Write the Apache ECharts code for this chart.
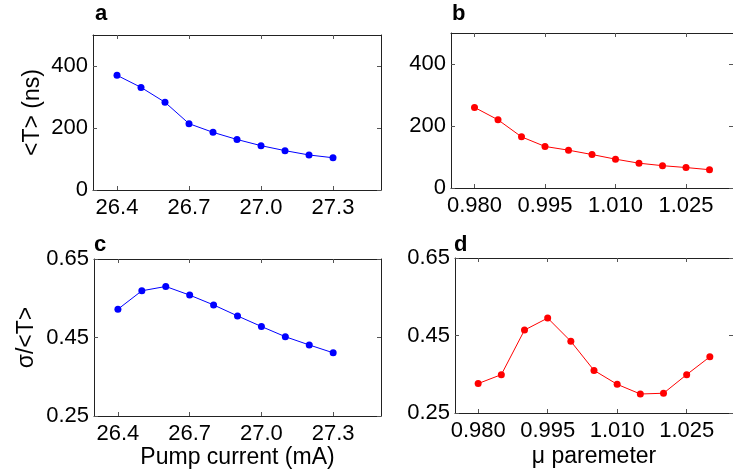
<!DOCTYPE html>
<html>
<head>
<meta charset="utf-8">
<script src="https://cdn.jsdelivr.net/npm/echarts@6/dist/echarts.min.js"></script>
<style>html,body{margin:0;padding:0;background:#fff;}#c{width:733px;height:476px;}</style>
</head>
<body>
<div id="c"></div>
<script>
// ---- data ----
const pumpCurrent = [26.4, 26.5, 26.6, 26.7, 26.8, 26.9, 27.0, 27.1, 27.2, 27.3];
const muParam = [0.980, 0.985, 0.990, 0.995, 1.000, 1.005, 1.010, 1.015, 1.020, 1.025, 1.030];
const periodA = [370, 331, 283, 214, 186, 163, 143, 127, 113, 104];
const periodB = [260, 220, 165, 134, 122, 108, 93, 80, 72, 66, 59];
const cvC = [0.522, 0.569, 0.580, 0.558, 0.533, 0.505, 0.478, 0.452, 0.431, 0.411];
const cvD = [0.326, 0.349, 0.464, 0.495, 0.435, 0.360, 0.324, 0.299, 0.301, 0.349, 0.395];
const pumpTicks = [26.4, 26.7, 27.0, 27.3];
const muTicks = [0.980, 0.995, 1.010, 1.025];
const periodTicks = [0, 200, 400];
const cvTicks = [0.25, 0.45, 0.65];
const panelTitles = ['a', 'b', 'c', 'd'];

const FONT = 'Liberation Sans, Arial, Helvetica, sans-serif';
const chart = echarts.init(document.getElementById('c'), null, {renderer: 'canvas'});

const grids = [
  {left: 93, top: 35, width: 288, height: 155},
  {left: 451, top: 33, width: 288, height: 155},
  {left: 94, top: 259, width: 287, height: 157},
  {left: 455, top: 258, width: 288, height: 155}
];

function xAx(gi, pos, min, max, ticks, digits, name, gap) {
  const show = pos === 'bottom';
  return {
    gridIndex: gi, type: 'value', position: pos, min: min, max: max,
    name: show ? name : '', nameLocation: 'middle', nameGap: gap,
    nameTextStyle: {fontFamily: FONT, fontSize: 23, color: '#000'},
    axisLine: {show: true, onZero: false, lineStyle: {color: '#222', width: 1}},
    axisTick: {show: true, inside: true, length: 4, customValues: ticks, lineStyle: {color: '#555'}},
    axisLabel: {show: show, customValues: ticks, margin: 7, fontFamily: FONT, fontSize: 22, color: '#000',
      formatter: v => Number(v).toFixed(digits)},
    splitLine: {show: false}
  };
}
function yAx(gi, pos, min, max, ticks, digits, name, gap) {
  const show = pos === 'left';
  return {
    gridIndex: gi, type: 'value', position: pos, min: min, max: max,
    name: show ? name : '', nameLocation: 'middle', nameGap: gap, nameRotate: 90,
    nameTextStyle: {fontFamily: FONT, fontSize: 23, color: '#000'},
    axisLine: {show: true, onZero: false, lineStyle: {color: '#222', width: 1}},
    axisTick: {show: true, inside: true, length: 4, customValues: ticks, lineStyle: {color: '#555'}},
    axisLabel: {show: show, customValues: ticks, margin: 5, fontFamily: FONT, fontSize: 22, color: '#000',
      formatter: v => digits === 0 ? String(Math.round(v)) : Number(v).toFixed(digits)},
    splitLine: {show: false}
  };
}

const xAxes = [
  xAx(0, 'bottom', 26.3, 27.5, pumpTicks, 1, '', 30), xAx(0, 'top', 26.3, 27.5, pumpTicks, 1, '', 30),
  xAx(1, 'bottom', 0.975, 1.035, muTicks, 3, '', 30), xAx(1, 'top', 0.975, 1.035, muTicks, 3, '', 30),
  xAx(2, 'bottom', 26.3, 27.5, pumpTicks, 1, 'Pump current (mA)', 30), xAx(2, 'top', 26.3, 27.5, pumpTicks, 1, '', 30),
  xAx(3, 'bottom', 0.975, 1.035, muTicks, 3, 'μ paremeter', 32), xAx(3, 'top', 0.975, 1.035, muTicks, 3, '', 30)
];
const yAxes = [
  yAx(0, 'left', 0, 500, periodTicks, 0, '<T> (ns)', 49), yAx(0, 'right', 0, 500, periodTicks, 0, '', 40),
  yAx(1, 'left', 0, 500, periodTicks, 0, '', 40), yAx(1, 'right', 0, 500, periodTicks, 0, '', 40),
  yAx(2, 'left', 0.25, 0.65, cvTicks, 2, 'σ/<T>', 56), yAx(2, 'right', 0.25, 0.65, cvTicks, 2, '', 40),
  yAx(3, 'left', 0.25, 0.65, cvTicks, 2, '', 40), yAx(3, 'right', 0.25, 0.65, cvTicks, 2, '', 40)
];

function ser(idx, xs, ys, color) {
  return {
    type: 'line', xAxisIndex: idx * 2, yAxisIndex: idx * 2,
    data: xs.map((x, i) => [x, ys[i]]),
    symbol: 'circle', symbolSize: 7, showSymbol: true,
    itemStyle: {color: color}, lineStyle: {color: color, width: 1},
    animation: false, silent: true
  };
}

const titlePos = [[95, 14], [452, 14], [94, 245], [454, 245]];

chart.setOption({
  animation: false,
  grid: grids,
  xAxis: xAxes,
  yAxis: yAxes,
  series: [
    ser(0, pumpCurrent, periodA, '#0000ff'),
    ser(1, muParam, periodB, '#ff0000'),
    ser(2, pumpCurrent, cvC, '#0000ff'),
    ser(3, muParam, cvD, '#ff0000')
  ],
  graphic: panelTitles.map((t, i) => ({
    type: 'text', left: titlePos[i][0], top: titlePos[i][1] - 11,
    style: {text: t, font: 'bold 22px ' + FONT, fill: '#000'}
  }))
});
</script>
</body>
</html>
